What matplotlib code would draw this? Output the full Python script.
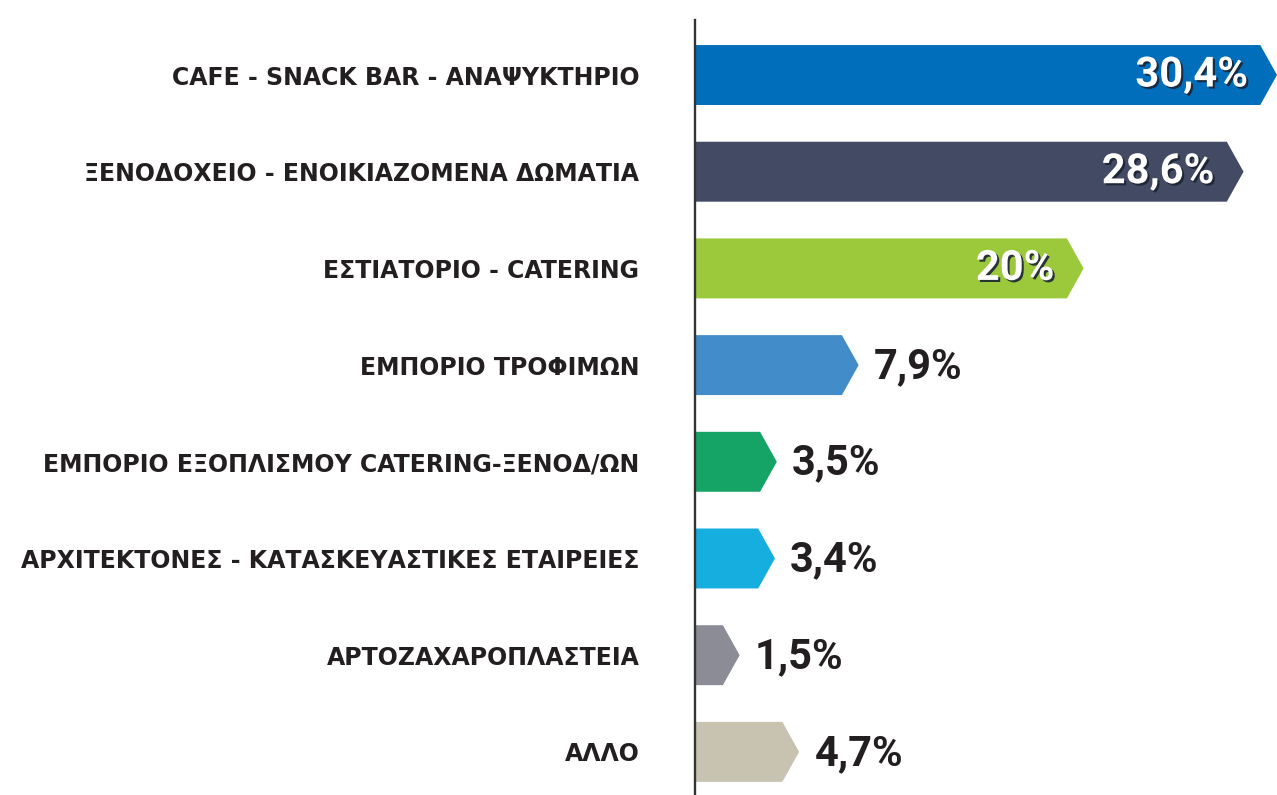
import matplotlib
matplotlib.use("Agg")
from matplotlib import pyplot as plt
from matplotlib.patches import Polygon
import matplotlib.patheffects as pe

plt.rcParams['font.family'] = ['DejaVu Sans']

categories = [
    "CAFE - SNACK BAR - ΑΝΑΨΥΚΤΗΡΙΟ",
    "ΞΕΝΟΔΟΧΕΙΟ - ΕΝΟΙΚΙΑΖΟΜΕΝΑ ΔΩΜΑΤΙΑ",
    "ΕΣΤΙΑΤΟΡΙΟ - CATERING",
    "ΕΜΠΟΡΙΟ ΤΡΟΦΙΜΩΝ",
    "ΕΜΠΟΡΙΟ ΕΞΟΠΛΙΣΜΟΥ CATERING-ΞΕΝΟΔ/ΩΝ",
    "ΑΡΧΙΤΕΚΤΟΝΕΣ - ΚΑΤΑΣΚΕΥΑΣΤΙΚΕΣ ΕΤΑΙΡΕΙΕΣ",
    "ΑΡΤΟΖΑΧΑΡΟΠΛΑΣΤΕΙΑ",
    "ΑΛΛΟ",
]
values = [30.4, 28.6, 20.0, 7.9, 3.5, 3.4, 1.5, 4.7]
value_labels = ["30,4%", "28,6%", "20%", "7,9%", "3,5%", "3,4%", "1,5%", "4,7%"]
colors = ["#006EBA", "#434A64", "#9BC93B", "#428CCA",
          "#16A366", "#15AEDF", "#8C8C96", "#C8C3B1"]
inside = [True, True, True, False, False, False, False, False]

value_font = ['Roboto', 'DejaVu Sans']

fig = plt.figure(figsize=(12.77, 7.95), dpi=100)
ax = fig.add_axes([695 / 1277, 0, 1 - 695 / 1277, 1 - 20 / 795])

tip = 0.9
half = 0.31
for i, (v, c) in enumerate(zip(values, colors)):
    pts = [(0, i - half), (v, i - half), (v + tip, i), (v, i + half), (0, i + half)]
    ax.add_patch(Polygon(pts, closed=True, facecolor=c, edgecolor="none"))

    if inside[i]:
        ax.annotate(value_labels[i], (v + tip, i), xytext=(-21, 0),
                    textcoords="offset points", ha="right", va="center",
                    fontsize=30, fontweight="bold", color="white", family=value_font,
                    path_effects=[pe.withSimplePatchShadow(offset=(1.5, -1.5),
                                                           shadow_rgbFace="#1c2433",
                                                           alpha=0.9)])
    else:
        ax.annotate(value_labels[i], (v + tip, i), xytext=(11, -1),
                    textcoords="offset points", ha="left", va="center",
                    fontsize=30, fontweight="bold", color="#231f20", family=value_font)

ax.set_xlim(0, 30.4 + tip)
ax.set_ylim(7.446, -0.569)
ax.set_yticks(range(len(categories)))
ax.set_yticklabels(categories, fontsize=17, fontweight="bold", color="#231f20")
ax.tick_params(axis="y", length=0, pad=40)
ax.set_xticks([])

for s in ["top", "right", "bottom"]:
    ax.spines[s].set_visible(False)
ax.spines["left"].set_color("#333333")
ax.spines["left"].set_linewidth(1.7)

fig.savefig("out.png", dpi=100)
